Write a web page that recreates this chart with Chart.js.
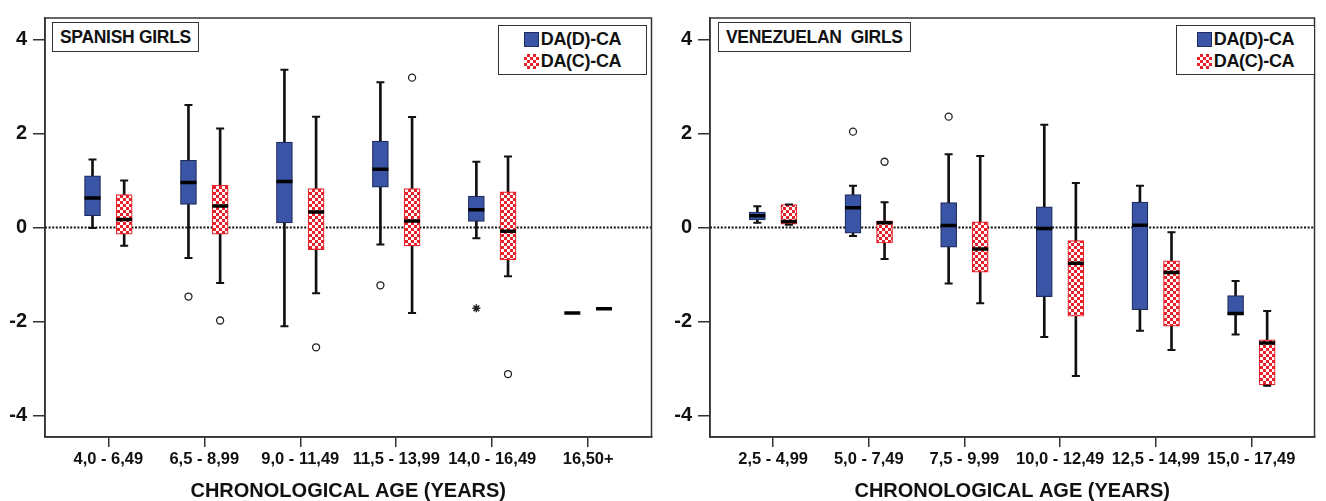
<!DOCTYPE html>
<html>
<head>
<meta charset="utf-8">
<script src="https://cdn.jsdelivr.net/npm/chart.js@4.4.1/dist/chart.umd.min.js"></script>
<style>
  html, body { margin: 0; padding: 0; background: #fff; }
  #wrap { position: relative; width: 1326px; height: 501px; overflow: hidden;
          font-family: 'Liberation Sans', Arial, sans-serif; font-weight: bold; color: #111; }
  canvas { position: absolute; top: 0; }
  .tag { position: absolute; top: 22px; height: 28px; border: 1.5px solid #333; background: #fff;
         font-size: 17.5px; line-height: 28px; padding: 0 7px; white-space: pre; letter-spacing: -0.3px; }
  .key { position: absolute; top: 25px; height: 48px; border: 1.5px solid #333; background: #fff;
         font-size: 18px; display: flex; flex-direction: column; align-items: center; justify-content: center;
         letter-spacing: -0.3px; }
  .key .row { display: flex; align-items: center; height: 22px; }
  .sw { width: 15px; height: 15px; margin-right: 2px; box-sizing: border-box; }
  .sw.d { background: #3a55a6; border: 1px solid #1f2d5e; }
  .sw.c { background: repeating-conic-gradient(#e62129 0 25%, #fff 0 50%) 0 0 / 6px 6px; }
</style>
</head>
<body>
<div id="wrap">
  <canvas id="left" width="663" height="501" style="left:0"></canvas>
  <canvas id="right" width="663" height="501" style="left:663px"></canvas>
  <div class="tag" style="left:52px">SPANISH GIRLS</div>
  <div class="key" style="left:498px; width:147px">
    <div><div class="row"><div class="sw d"></div>DA(D)-CA</div>
    <div class="row"><div class="sw c"></div>DA(C)-CA</div></div>
  </div>
  <div class="tag" style="left:718px">VENEZUELAN  GIRLS</div>
  <div class="key" style="left:1176px; width:137px">
    <div><div class="row"><div class="sw d"></div>DA(D)-CA</div>
    <div class="row"><div class="sw c"></div>DA(C)-CA</div></div>
  </div>
</div>
<script>
// age groups
const esCats = ['4,0 - 6,49', '6,5 - 8,99', '9,0 - 11,49', '11,5 - 13,99', '14,0 - 16,49', '16,50+'];
const veCats = ['2,5 - 4,99', '5,0 - 7,49', '7,5 - 9,99', '10,0 - 12,49', '12,5 - 14,99', '15,0 - 17,49'];
const yTicks = [-4, -2, 0, 2, 4];

// Spanish girls, DA(D)-CA
const esD_lo  = [-0.01, -0.65, -2.10, -0.36, -0.23, null];
const esD_q1  = [0.25, 0.49, 0.10, 0.86, 0.13, null];
const esD_med = [0.63, 0.96, 0.98, 1.24, 0.38, -1.82];
const esD_q3  = [1.10, 1.43, 1.82, 1.84, 0.67, null];
const esD_hi  = [1.45, 2.61, 3.36, 3.09, 1.40, null];
const esD_out = [[1, -1.47], [3, -1.23]];
const esD_ext = [[4, -1.72]];

// Spanish girls, DA(C)-CA
const esC_lo  = [-0.39, -1.18, -1.40, -1.82, -1.04, null];
const esC_q1  = [-0.14, -0.14, -0.47, -0.39, -0.69, null];
const esC_med = [0.17, 0.46, 0.33, 0.14, -0.08, -1.73];
const esC_q3  = [0.70, 0.90, 0.83, 0.83, 0.76, null];
const esC_hi  = [1.00, 2.11, 2.36, 2.35, 1.51, null];
const esC_out = [[1, -1.98], [2, -2.55], [3, 3.19], [4, -3.12]];

// Venezuelan girls, DA(D)-CA
const veD_lo  = [0.10, -0.18, -1.19, -2.33, -2.20, -2.28];
const veD_q1  = [0.16, -0.12, -0.42, -1.47, -1.75, -1.86];
const veD_med = [0.25, 0.42, 0.04, -0.02, 0.05, -1.83];
const veD_q3  = [0.33, 0.70, 0.53, 0.44, 0.54, -1.45];
const veD_hi  = [0.45, 0.89, 1.56, 2.19, 0.89, -1.14];
const veD_out = [[1, 2.04], [2, 2.36]];

// Venezuelan girls, DA(C)-CA
const veC_lo  = [0.06, -0.67, -1.61, -3.16, -2.61, -3.37];
const veC_q1  = [0.07, -0.33, -0.95, -1.89, -2.10, -3.35];
const veC_med = [0.13, 0.10, -0.46, -0.76, -0.96, -2.46];
const veC_q3  = [0.49, 0.14, 0.12, -0.28, -0.71, -2.39];
const veC_hi  = [0.49, 0.54, 1.52, 0.95, -0.10, -1.78];
const veC_out = [[1, 1.40]];

const SHIFT = 0.165;
const X_MIN = -0.66, X_MAX = 5.66;
const INK = '#111';
const FONT = "'Liberation Sans', Arial, sans-serif";

function checker() {
  const c = document.createElement('canvas');
  c.width = 6; c.height = 6;
  const g = c.getContext('2d');
  g.fillStyle = '#e62129';
  g.fillRect(0, 0, 6, 6);
  g.fillStyle = '#fff';
  g.fillRect(0, 0, 3, 3);
  g.fillRect(3, 3, 3, 3);
  return g.createPattern(c, 'repeat');
}

const pts = (arr, dx) => arr.map((v, i) => v == null ? null : { x: i + dx, y: v }).filter(Boolean);
const spans = (a, b, dx) => a.map((v, i) => v == null ? null : { x: i + dx, y: [v, b[i]] }).filter(Boolean);
const extra = (list, dx) => list.map(([i, v]) => ({ x: i + dx, y: v }));

function boxSets(lo, q1, med, q3, hi, dx, fill, edge) {
  return [
    { type: 'bar', data: spans(lo, hi, dx), backgroundColor: INK, barThickness: 2, grouped: false, order: 3 },
    { type: 'bar', data: spans(q1, q3, dx), backgroundColor: fill, borderColor: edge, borderWidth: 1.2,
      borderSkipped: false, barThickness: 16, grouped: false, order: 2 },
    { type: 'scatter', data: pts(lo, dx).concat(pts(hi, dx)), pointStyle: 'line', pointRadius: 4,
      borderColor: INK, borderWidth: 2, order: 1 },
    { type: 'scatter', data: pts(med, dx), pointStyle: 'line', pointRadius: 8,
      borderColor: '#000', borderWidth: 3.5, order: 0 }
  ];
}

function outlierSet(list, dx) {
  return { type: 'scatter', data: extra(list, dx), pointStyle: 'circle', pointRadius: 3.5,
           backgroundColor: '#fff', borderColor: '#222', borderWidth: 1.3, order: 0 };
}

const frame = {
  id: 'frame',
  afterDraw(chart) {
    const { ctx, chartArea: a } = chart;
    ctx.save();
    ctx.strokeStyle = '#333';
    ctx.lineWidth = 1.5;
    ctx.strokeRect(a.left, a.top, a.right - a.left, a.bottom - a.top);
    ctx.restore();
  }
};

function panel(id, cats, datasets, yWidth, padRight) {
  new Chart(document.getElementById(id), {
    type: 'bar',
    data: {
      datasets: [
        { type: 'line', data: [{ x: X_MIN, y: 0 }, { x: X_MAX, y: 0 }], borderColor: INK, borderWidth: 2.2,
          borderDash: [2, 1.6], pointRadius: 0, order: 4 },
        ...datasets
      ]
    },
    options: {
      responsive: false,
      animation: false,
      layout: { padding: { top: 13, right: padRight, left: 0, bottom: 0 } },
      plugins: { legend: { display: false }, tooltip: { enabled: false } },
      scales: {
        x: {
          type: 'linear', min: X_MIN, max: X_MAX, offset: false,
          afterBuildTicks: s => { s.ticks = cats.map((_, i) => ({ value: i })); },
          afterFit: s => { s.height = 64; },
          ticks: { callback: v => cats[v], color: INK, padding: 3, maxRotation: 0, autoSkip: false,
                   font: { family: FONT, weight: 'bold', size: 16.5 } },
          grid: { drawOnChartArea: false, offset: false, tickLength: 10, color: '#333', lineWidth: 1.5 },
          border: { color: '#333', width: 1.5 },
          title: { display: true, text: 'CHRONOLOGICAL AGE (YEARS)', color: INK, padding: 0,
                   font: { family: FONT, weight: 'bold', size: 20, lineHeight: 1 } }
        },
        y: {
          min: -4.46, max: 4.46,
          afterBuildTicks: s => { s.ticks = yTicks.map(v => ({ value: v })); },
          afterFit: s => { s.width = yWidth; },
          ticks: { color: INK, padding: 6, font: { family: FONT, weight: 'bold', size: 20 } },
          grid: { drawOnChartArea: false, tickLength: 12, color: '#333', lineWidth: 1.5 },
          border: { color: '#333', width: 1.5 }
        }
      }
    },
    plugins: [frame]
  });
}

const red = checker();
const blue = '#3a55a6', blueEdge = '#1f2d5e', redEdge = '#e62129';

panel('left', esCats, [
  ...boxSets(esD_lo, esD_q1, esD_med, esD_q3, esD_hi, -SHIFT, blue, blueEdge),
  ...boxSets(esC_lo, esC_q1, esC_med, esC_q3, esC_hi, SHIFT, red, redEdge),
  outlierSet(esD_out, -SHIFT),
  outlierSet(esC_out, SHIFT),
  { type: 'scatter', data: extra(esD_ext, -SHIFT), pointStyle: 'star', pointRadius: 4,
    borderColor: '#222', borderWidth: 1.5, order: 0 }
], 45, 4);

panel('right', veCats, [
  ...boxSets(veD_lo, veD_q1, veD_med, veD_q3, veD_hi, -SHIFT, blue, blueEdge),
  ...boxSets(veC_lo, veC_q1, veC_med, veC_q3, veC_hi, SHIFT, red, redEdge),
  outlierSet(veD_out, -SHIFT),
  outlierSet(veC_out, SHIFT)
], 47, 1);
</script>
</body>
</html>
